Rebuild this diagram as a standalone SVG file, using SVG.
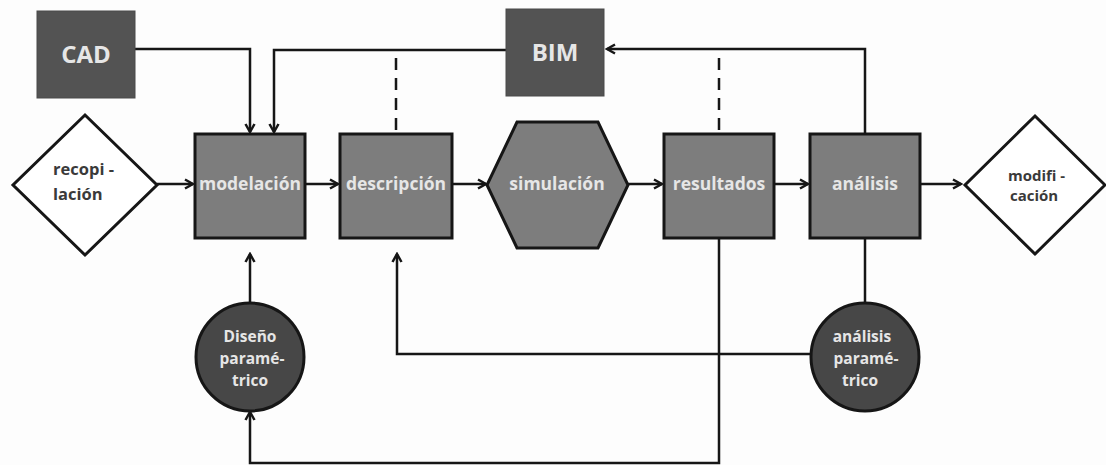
<svg xmlns="http://www.w3.org/2000/svg" width="1106" height="465" viewBox="0 0 1106 465">
<style>
.box{fill:#7d7d7d;stroke:#161616;stroke-width:3}
.dark{fill:#535353;stroke:#4a4a4a;stroke-width:1}
.circ{fill:#474747;stroke:#161616;stroke-width:3}
.dia{fill:#ffffff;stroke:#161616;stroke-width:3}
.lt{font-family:"Open Sans","Liberation Sans",sans-serif;font-weight:bold;fill:#e6e6e6;text-anchor:middle}
.dt{font-family:"Open Sans","Liberation Sans",sans-serif;font-weight:bold;fill:#3a3a3a}
.c{fill:none;stroke:#161616;stroke-width:2.5}
.dash{stroke-dasharray:12 8}
</style>
<defs>
<marker id="arr" viewBox="0 0 12 12" refX="10" refY="6" markerWidth="12" markerHeight="12" markerUnits="userSpaceOnUse" orient="auto">
<path d="M2,1.5 L10,6 L2,10.5" fill="none" stroke="#161616" stroke-width="2.5"/>
</marker>
</defs>
<rect width="1106" height="465" fill="#fdfdfd"/>
<g id="connectors">
<path class="c" d="M135,49 H250 V132" marker-end="url(#arr)"/>
<path class="c" d="M506,50 H274 V132" marker-end="url(#arr)"/>
<path class="c" d="M157,184 H193" marker-end="url(#arr)"/>
<path class="c" d="M305,184 H338" marker-end="url(#arr)"/>
<path class="c" d="M452,184 H486" marker-end="url(#arr)"/>
<path class="c" d="M628,184 H662" marker-end="url(#arr)"/>
<path class="c" d="M774,184 H808" marker-end="url(#arr)"/>
<path class="c" d="M920,184 H961" marker-end="url(#arr)"/>
<path class="c" d="M865,134 V49 H607" marker-end="url(#arr)"/>
<path class="c dash" d="M396,58 V134"/>
<path class="c dash" d="M719,58 V134"/>
<path class="c" d="M250,305 V254" marker-end="url(#arr)"/>
<path class="c" d="M810,354 H397 V254" marker-end="url(#arr)"/>
<path class="c" d="M719,238 V463 H250 V412" marker-end="url(#arr)"/>
<path class="c" d="M865,238 V305"/>
</g>
<g id="cad">
<rect class="dark" x="37" y="11" width="98" height="87"/>
<text class="lt" x="86" y="63" font-size="24">CAD</text>
</g>
<g id="bim">
<rect class="dark" x="506" y="9" width="98" height="87"/>
<text class="lt" x="555" y="61" font-size="24">BIM</text>
</g>
<g id="recopilacion">
<polygon class="dia" points="85,115 157,185 85,255 13,185"/>
<text class="dt" x="53" y="175" font-size="16.5">recopi -</text>
<text class="dt" x="53" y="200" font-size="16.5">lación</text>
</g>
<g id="modelacion">
<rect class="box" x="195" y="134" width="110" height="104"/>
<text class="lt" x="250" y="190" font-size="17.5">modelación</text>
</g>
<g id="descripcion">
<rect class="box" x="340" y="134" width="112" height="104"/>
<text class="lt" x="396" y="190" font-size="17.5">descripción</text>
</g>
<g id="simulacion">
<polygon class="box" points="517,122 598,122 628,185 598,248 517,248 487,185"/>
<text class="lt" x="557" y="190" font-size="17.5">simulación</text>
</g>
<g id="resultados">
<rect class="box" x="664" y="134" width="110" height="104"/>
<text class="lt" x="719" y="190" font-size="17.5">resultados</text>
</g>
<g id="analisis">
<rect class="box" x="810" y="134" width="110" height="104"/>
<text class="lt" x="865" y="190" font-size="17.5">análisis</text>
</g>
<g id="modificacion">
<polygon class="dia" points="1035,116 1105,185 1035,254 965,185"/>
<text class="dt" x="1008" y="181" font-size="15">modifi  -</text>
<text class="dt" x="1010" y="201" font-size="15">cación</text>
</g>
<g id="diseno-parametrico">
<circle class="circ" cx="250" cy="357" r="54"/>
<text class="lt" x="250" y="342" font-size="15.5">Diseño</text>
<text class="lt" x="252" y="364" font-size="15.5">paramé-</text>
<text class="lt" x="250" y="386" font-size="15.5">trico</text>
</g>
<g id="analisis-parametrico">
<circle class="circ" cx="865" cy="357" r="54"/>
<text class="lt" x="862" y="342" font-size="15.5">análisis</text>
<text class="lt" x="866" y="364" font-size="15.5">paramé-</text>
<text class="lt" x="860" y="386" font-size="15.5">trico</text>
</g>
</svg>
